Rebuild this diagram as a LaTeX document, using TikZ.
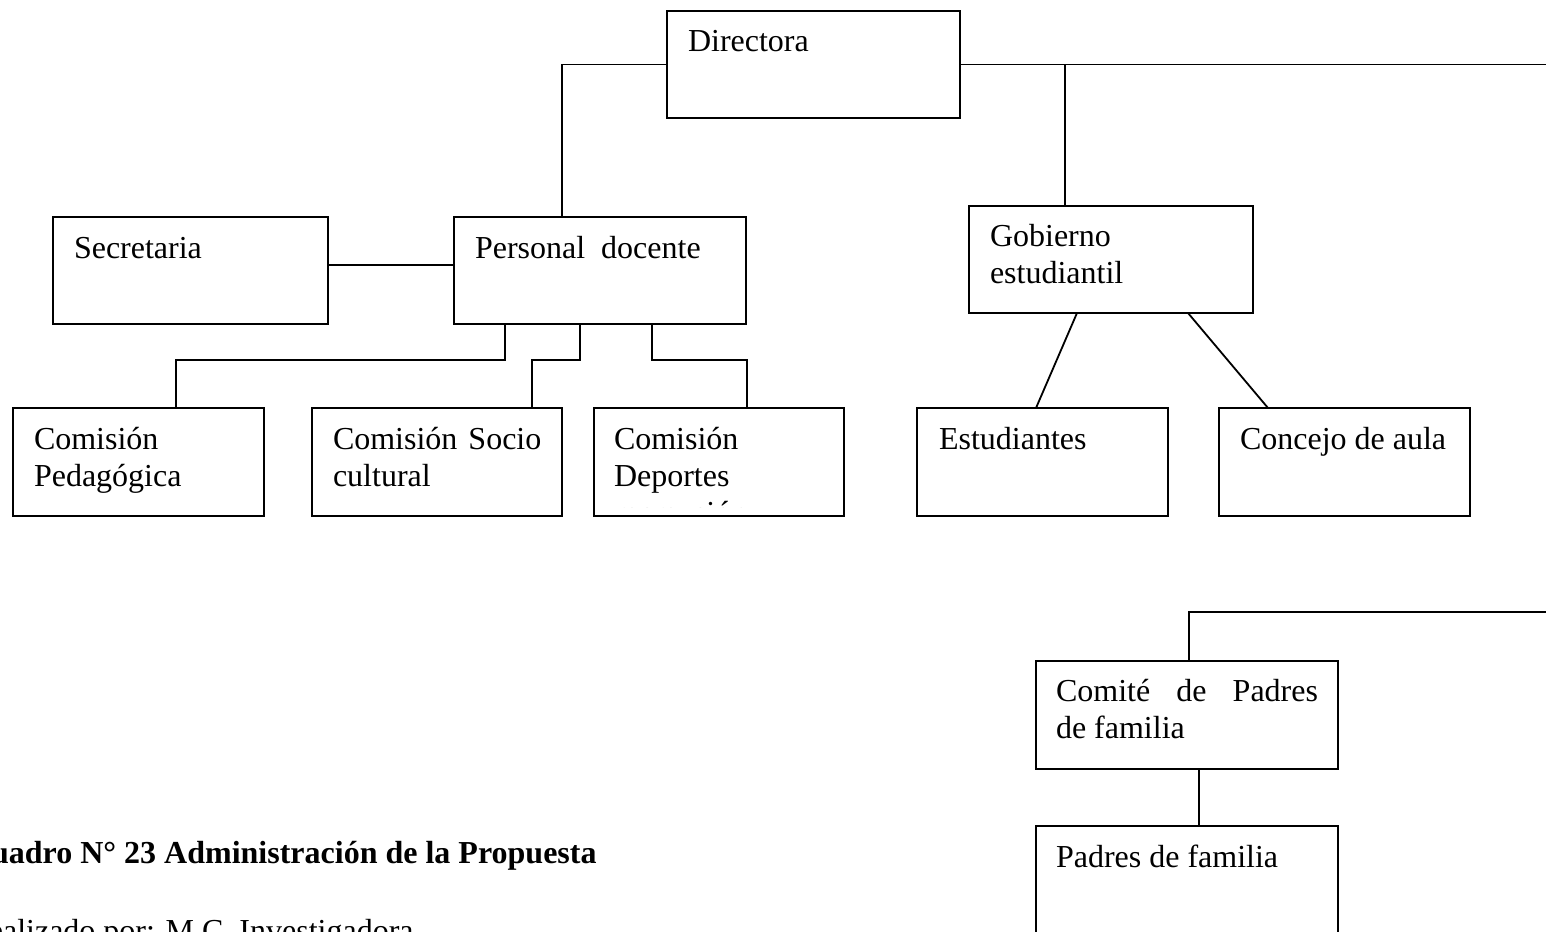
\documentclass[tikz,border=0pt]{standalone}
\usepackage{fontspec}
\setmainfont{Liberation Serif}
\begin{document}
\begin{tikzpicture}[x=0.5pt,y=-0.5pt,
  box/.style={draw, line width=0.9pt, rectangle, inner sep=0pt, outer sep=0pt},
  lbl/.style={anchor=base west, inner sep=0pt, outer sep=0pt, font=\fontsize{16}{18.5}\selectfont},
  conn/.style={line width=0.9pt}]
\clip (0,0) rectangle (1546,931);
% boxes
\node[box, minimum width=146.5pt, minimum height=53.5pt] (dir)  at (813.5,64.5) {};
\node[box, minimum width=137.5pt, minimum height=53.5pt] (sec)  at (190.5,270.5) {};
\node[box, minimum width=146pt,   minimum height=53.5pt] (pers) at (600,270.5) {};
\node[box, minimum width=142pt,   minimum height=53.5pt] (gob)  at (1111,259.5) {};
\node[box, minimum width=125.5pt, minimum height=54pt]   (ped)  at (138.5,462) {};
\node[box, minimum width=125pt,   minimum height=54pt]   (soc)  at (437,462) {};
\node[box, minimum width=125pt,   minimum height=54pt]   (dep)  at (719,462) {};
\node[box, minimum width=125.5pt, minimum height=54pt]   (est)  at (1042.5,462) {};
\node[box, minimum width=125.5pt, minimum height=54pt]   (con)  at (1344.5,462) {};
\node[box, minimum width=151pt,   minimum height=54pt]   (com)  at (1187,715) {};
\node[box, minimum width=151pt,   minimum height=54pt]   (pad)  at (1187,880) {};
% labels
\node[lbl] (dirT)  at ([shift={(10.5pt,-20.5pt)}]dir.north west) {Directora};
\node[lbl] (secT)  at ([shift={(10.5pt,-20.5pt)}]sec.north west) {Secretaria};
\node[lbl] (persT) at ([shift={(10.5pt,-20.5pt)}]pers.north west) {Personal\ \ docente};
\node[lbl] (gobT1) at ([shift={(10.5pt,-20pt)}]gob.north west) {Gobierno};
\node[lbl] (gobT2) at ([shift={(10.5pt,-38.5pt)}]gob.north west) {estudiantil};
\node[lbl] (pedT1) at ([shift={(10.5pt,-20.5pt)}]ped.north west) {Comisión};
\node[lbl] (pedT2) at ([shift={(10.5pt,-39pt)}]ped.north west) {Pedagógica};
\node[lbl] (socT1) at ([shift={(10.5pt,-20.5pt)}]soc.north west) {Comisión\ \hspace{1.5pt}Socio};
\node[lbl] (socT2) at ([shift={(10.5pt,-39pt)}]soc.north west) {cultural};
\node[lbl] (depT1) at ([shift={(10pt,-20.5pt)}]dep.north west) {Comisión};
\node[lbl] (depT2) at ([shift={(10pt,-39pt)}]dep.north west) {Deportes};
\begin{scope}
\clip (594,408) rectangle (844,507);
\node[lbl] (depT3) at ([shift={(10pt,-57.5pt)}]dep.north west) {recreación};
\end{scope}
\node[lbl] (estT)  at ([shift={(11pt,-20.5pt)}]est.north west) {Estudiantes};
\node[lbl] (conT)  at ([shift={(10.5pt,-20.5pt)}]con.north west) {Concejo de aula};
\node[lbl] (comT1) at ([shift={(10pt,-20pt)}]com.north west) {\makebox[131pt][s]{Comité de Padres}};
\node[lbl] (comT2) at ([shift={(10pt,-38.5pt)}]com.north west) {de familia};
\node[lbl] (padT)  at ([shift={(10pt,-20.5pt)}]pad.north west) {Padres de familia};
% caption
\node[anchor=base east, inner sep=0pt, font=\bfseries\fontsize{16}{18.5}\selectfont] (cap) at (597,863) {Cuadro N° 23 Administración de la Propuesta};
\node[anchor=base east, inner sep=0pt, font=\fontsize{16}{18.5}\selectfont] (real) at (414,941) {Realizado por: M.C. Investigadora};
% connectors
\coordinate (redgeA) at (1560,64.5);
\coordinate (redgeB) at (1560,612);
\draw[conn] (dir.west) -| ([xshift=-19pt]pers.north);
\draw[conn] ([yshift=2.75pt]sec.east) -- ([yshift=2.75pt]pers.west);
\draw[conn] ([xshift=-47.5pt]pers.south) -- ++(0,36) -| ([xshift=18.75pt]ped.north);
\draw[conn] ([xshift=-10pt]pers.south) -- ++(0,36) -| ([xshift=47.5pt]soc.north);
\draw[conn] ([xshift=26pt]pers.south) -- ++(0,36) -| ([xshift=14pt]dep.north);
\draw[conn] (dir.east) -- (redgeA);
\draw[conn] ([xshift=-23pt]gob.north) -- ([xshift=-23pt]gob.north |- dir.east);
\draw[conn] ([xshift=-17pt]gob.south) -- ([xshift=-3.25pt]est.north);
\draw[conn] ([xshift=38.5pt]gob.south) -- ([xshift=-38.25pt]con.north);
\draw[conn] ([xshift=1pt]com.north) |- (redgeB);
\draw[conn] ([xshift=6pt]com.south) -- ([xshift=6pt]pad.north);
\end{tikzpicture}
\end{document}
